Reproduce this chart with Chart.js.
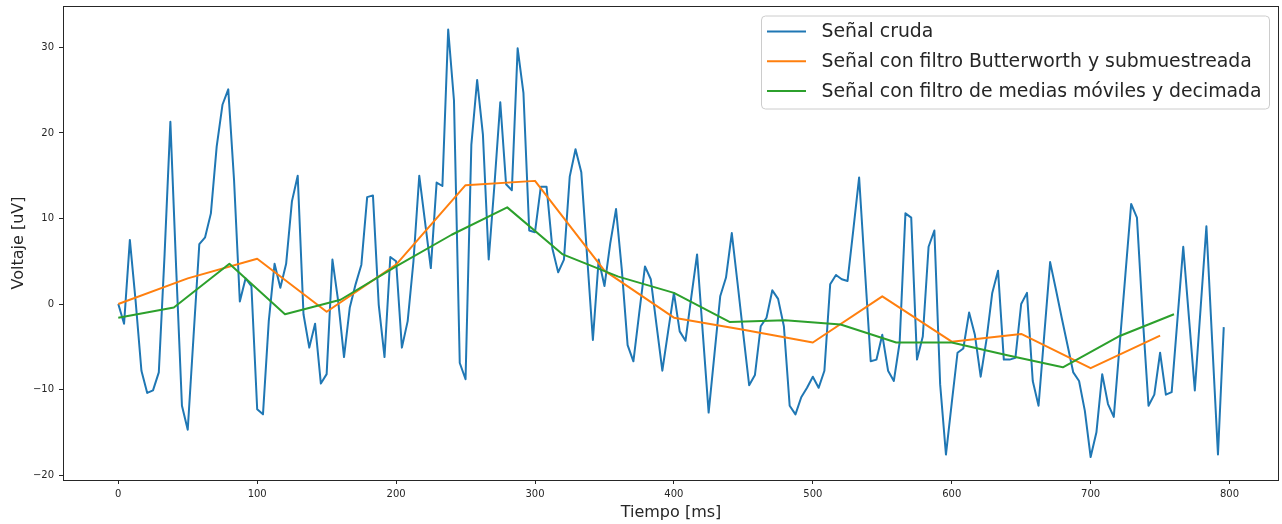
<!DOCTYPE html>
<html>
<head>
<meta charset="utf-8">
<script src="https://cdn.jsdelivr.net/npm/chart.js@4.4.1/dist/chart.umd.min.js"></script>
<style>
  body { margin: 0; background: #fff; }
  canvas { display: block; }
</style>
</head>
<body>
<canvas id="signals" width="1282" height="524"></canvas>
<script>
// raw signal, sampled at 240 Hz
let rawPeriod = 1000 / 240;
let rawValues = [
  0.0, -2.3, 7.5, 0.3, -7.8, -10.4, -10.1, -8.0, 5.8, 21.3,
  4.2, -11.9, -14.7, -3.8, 7.0, 7.8, 10.6, 18.4, 23.3, 25.1,
  14.5, 0.3, 3.0, 2.1, -12.3, -12.9, -2.0, 4.7, 1.9, 4.7,
  12.0, 15.0, -1.2, -5.1, -2.3, -9.3, -8.2, 5.2, 0.3, -6.2,
  -0.4, 2.3, 4.6, 12.5, 12.7, -0.1, -6.2, 5.5, 5.0, -5.1,
  -2.0, 5.0, 15.0, 9.6, 4.2, 14.2, 13.8, 32.1, 23.8, -6.9,
  -8.8, 18.6, 26.2, 19.8, 5.2, 14.0, 23.6, 14.0, 13.3, 29.9,
  24.7, 8.6, 8.4, 13.7, 13.7, 6.5, 3.7, 5.2, 14.9, 18.1,
  15.4, 5.6, -4.2, 5.2, 2.1, 7.1, 11.1, 4.0, -4.8, -6.7,
  -1.1, 4.4, 2.9, -2.5, -7.8, -3.2, 1.3, -3.2, -4.3, 0.8,
  5.8, -3.5, -12.7, -5.9, 0.9, 3.1, 8.3, 2.4, -3.6, -9.5,
  -8.3, -2.6, -1.6, 1.6, 0.6, -2.6, -11.9, -12.9, -10.9, -9.8,
  -8.5, -9.8, -7.8, 2.3, 3.4, 2.9, 2.7, 8.7, 14.8, 4.0,
  -6.7, -6.5, -3.6, -7.8, -9.0, -4.5, 10.6, 10.1, -6.5, -3.8,
  6.7, 8.6, -9.4, -17.6, -11.6, -5.7, -5.2, -1.0, -3.6, -8.5,
  -4.2, 1.3, 3.9, -6.5, -6.5, -6.3, 0.0, 1.3, -9.0, -11.9,
  -3.5, 4.9, 1.7, -1.6, -4.8, -8.0, -9.0, -12.5, -17.9, -15.0,
  -8.2, -11.7, -13.2, -4.9, 3.4, 11.7, 10.1, -1.5, -11.9, -10.6,
  -5.7, -10.6, -10.3, -1.8, 6.7, -1.7, -10.1, -0.5, 9.1, -4.4,
  -17.6, -2.7
];

let butterTimes = [0, 50, 100, 150, 200, 250, 300, 350, 400, 450, 500, 550, 600, 650, 700, 750];
let butterValues = [0.0, 3.0, 5.3, -0.9, 4.6, 13.9, 14.4, 3.9, -1.6, -3.0, -4.5, 0.9, -4.4, -3.5, -7.5, -3.7];

let movingTimes = [0, 40, 80, 120, 160, 200, 240, 280, 320, 360, 400, 440, 480, 520, 560, 600, 640, 680, 720, 760];
let movingValues = [-1.6, -0.4, 4.7, -1.2, 0.5, 4.4, 8.1, 11.3, 5.8, 3.2, 1.3, -2.1, -1.9, -2.4, -4.5, -4.5, -6.0, -7.4, -3.8, -1.2];

let seriesNames = [
  'Señal cruda',
  'Señal con filtro Butterworth y submuestreada',
  'Señal con filtro de medias móviles y decimada'
];
let seriesColors = ['#1f77b4', '#ff7f0e', '#2ca02c'];

let xTicks = [0, 100, 200, 300, 400, 500, 600, 700, 800];
let yTicks = [-20, -10, 0, 10, 20, 30];

let rawPoints = rawValues.map((v, i) => ({ x: i * rawPeriod, y: v }));
let butterPoints = butterValues.map((v, i) => ({ x: butterTimes[i], y: v }));
let movingPoints = movingValues.map((v, i) => ({ x: movingTimes[i], y: v }));

let font = '"DejaVu Sans", "Liberation Sans", sans-serif';
let textColor = '#262626';
let axisColor = '#262626';

// frame round the plot and the legend box inside it
let boxLegend = {
  id: 'boxLegend',
  afterDraw(chart) {
    let ctx = chart.ctx;
    let a = chart.chartArea;
    ctx.save();
    ctx.strokeStyle = axisColor;
    ctx.lineWidth = 1;
    ctx.strokeRect(Math.round(a.left) + 0.5, Math.round(a.top) + 0.5,
      Math.round(a.right - a.left) - 1, Math.round(a.bottom - a.top));

    let bx = 761, by = 15.5, bw = 508, bh = 93;
    ctx.beginPath();
    ctx.roundRect(bx + 0.5, by + 0.5, bw, bh, 4);
    ctx.fillStyle = 'rgba(255,255,255,0.8)';
    ctx.fill();
    ctx.strokeStyle = '#cccccc';
    ctx.stroke();

    ctx.font = '18.85px ' + font;
    ctx.textBaseline = 'middle';
    ctx.textAlign = 'left';
    for (let i = 0; i < seriesNames.length; i++) {
      let y = 31.5 + i * 29.7;
      ctx.beginPath();
      ctx.moveTo(767, y);
      ctx.lineTo(806, y);
      ctx.strokeStyle = seriesColors[i];
      ctx.lineWidth = 2;
      ctx.stroke();
      ctx.fillStyle = textColor;
      ctx.fillText(seriesNames[i], 821.5, y + 1);
    }
    ctx.restore();
  }
};

let minusLabel = (v) => v < 0 ? '\u2212' + Math.abs(v) : String(v);

new Chart(document.getElementById('signals').getContext('2d'), {
  type: 'line',
  data: {
    datasets: [
      { label: seriesNames[0], data: rawPoints, borderColor: seriesColors[0], borderWidth: 2, order: 2 },
      { label: seriesNames[1], data: butterPoints, borderColor: seriesColors[1], borderWidth: 2, order: 1 },
      { label: seriesNames[2], data: movingPoints, borderColor: seriesColors[2], borderWidth: 2, order: 0 }
    ]
  },
  options: {
    responsive: false,
    animation: false,
    events: [],
    elements: {
      point: { radius: 0 },
      line: { tension: 0, fill: false, borderJoinStyle: 'round' }
    },
    layout: { padding: { top: 6, right: 3, left: 0, bottom: 0 } },
    plugins: {
      legend: { display: false },
      tooltip: { enabled: false }
    },
    scales: {
      x: {
        type: 'linear',
        min: -39.8,
        max: 835.6,
        grid: { display: true, drawOnChartArea: false, drawTicks: true, tickLength: 4, color: axisColor },
        border: { display: false },
        ticks: { font: { family: font, size: 10 }, color: textColor, padding: 4, maxRotation: 0, callback: minusLabel },
        title: { display: true, text: 'Tiempo [ms]', font: { family: font, size: 16 }, color: textColor, padding: { top: 0, bottom: 2 } },
        afterBuildTicks: (s) => { s.ticks = xTicks.map(v => ({ value: v })); },
        afterFit: (s) => { s.height = 44; s.paddingLeft = 0; s.paddingRight = 0; }
      },
      y: {
        type: 'linear',
        min: -20.58,
        max: 34.85,
        grid: { display: true, drawOnChartArea: false, drawTicks: true, tickLength: 4, color: axisColor },
        border: { display: false },
        ticks: { font: { family: font, size: 10 }, color: textColor, padding: 5, callback: minusLabel },
        title: { display: true, text: 'Voltaje [uV]', font: { family: font, size: 16 }, color: textColor, padding: { top: 9, bottom: 0 } },
        afterBuildTicks: (s) => { s.ticks = yTicks.map(v => ({ value: v })); },
        afterFit: (s) => { s.width = 63; s.paddingTop = 0; s.paddingBottom = 0; }
      }
    }
  },
  plugins: [boxLegend]
});
</script>
</body>
</html>
